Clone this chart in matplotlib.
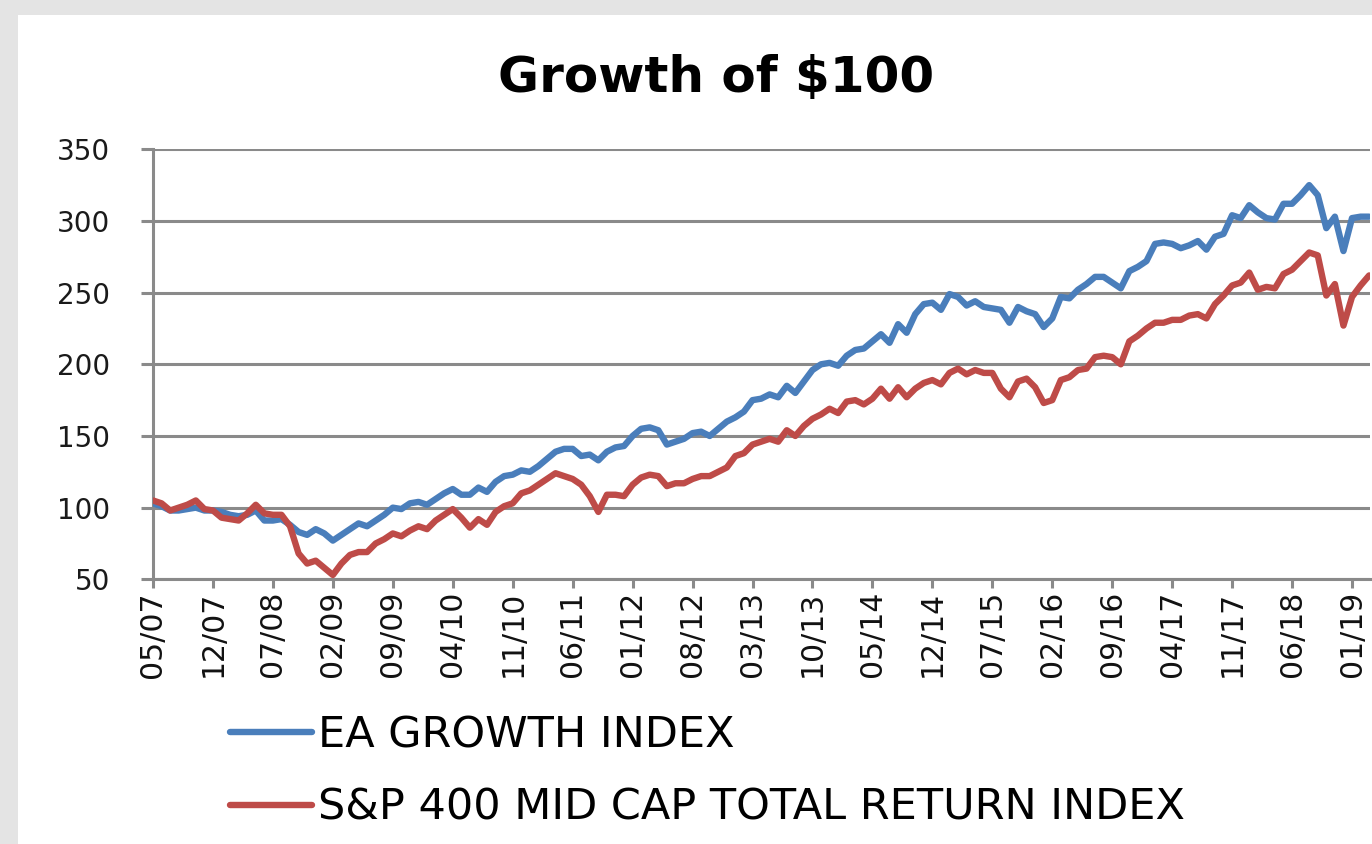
import matplotlib
matplotlib.use("Agg")
import matplotlib.pyplot as plt
import pandas as pd
from matplotlib.patches import Rectangle

# ---------------- data ----------------
start_month = "2007-05"
n_months = 143
ea_growth = [
    103, 101, 98, 98, 99, 100, 98, 98, 97, 95,
    94, 95, 98, 91, 91, 92, 88, 83, 81, 85,
    82, 77, 81, 85, 89, 87, 91, 95, 100, 99,
    103, 104, 102, 106, 110, 113, 109, 109, 114, 111,
    118, 122, 123, 126, 125, 129, 134, 139, 141, 141,
    136, 137, 133, 139, 142, 143, 150, 155, 156, 154,
    144, 146, 148, 152, 153, 150, 155, 160, 163, 167,
    175, 176, 179, 177, 185, 180, 188, 196, 200, 201,
    199, 206, 210, 211, 216, 221, 215, 228, 222, 235,
    242, 243, 238, 249, 247, 241, 244, 240, 239, 238,
    229, 240, 237, 235, 226, 232, 247, 246, 252, 256,
    261, 261, 257, 253, 265, 268, 272, 284, 285, 284,
    281, 283, 286, 280, 289, 291, 304, 302, 311, 306,
    302, 301, 312, 312, 318, 325, 318, 295, 303, 279,
    302, 303, 303,
]
sp400_mid = [
    105, 103, 98, 100, 102, 105, 99, 98, 93, 92,
    91, 96, 102, 96, 95, 95, 87, 68, 61, 63,
    58, 53, 61, 67, 69, 69, 75, 78, 82, 80,
    84, 87, 85, 91, 95, 99, 93, 86, 92, 88,
    97, 101, 103, 110, 112, 116, 120, 124, 122, 120,
    116, 108, 97, 109, 109, 108, 116, 121, 123, 122,
    115, 117, 117, 120, 122, 122, 125, 128, 136, 138,
    144, 146, 148, 146, 154, 150, 157, 162, 165, 169,
    166, 174, 175, 172, 176, 183, 176, 184, 177, 183,
    187, 189, 186, 194, 197, 193, 196, 194, 194, 183,
    177, 188, 190, 184, 173, 175, 189, 191, 196, 197,
    205, 206, 205, 200, 216, 220, 225, 229, 229, 231,
    231, 234, 235, 232, 242, 248, 255, 257, 264, 252,
    254, 253, 263, 266, 272, 278, 276, 248, 256, 227,
    247, 255, 262,
]
series_names = ["EA GROWTH INDEX", "S&P 400 MID CAP TOTAL RETURN INDEX"]
title_text = "Growth of $100"
y_ticks = [50, 100, 150, 200, 250, 300, 350]
tick_every = 7

months = pd.date_range(start_month, periods=n_months, freq="MS")
month_labels = [d.strftime("%m/%y") for d in months]
x = list(range(n_months))

# ---------------- figure ----------------
W, H, DPI = 1372, 844, 100
fig = plt.figure(figsize=(W / DPI, H / DPI), dpi=DPI, facecolor="#e4e4e4")
fig.patches.append(Rectangle((18 / W, 0), 1, (H - 15) / H, transform=fig.transFigure,
                             facecolor="white", edgecolor="none", zorder=-10))

def fx(px):
    return px / W

def fy(py):
    return 1 - py / H

ax_left, ax_right, ax_top, ax_bottom = 153, 1370, 149.3, 579.3
ax = fig.add_axes([fx(ax_left), fy(ax_bottom), fx(ax_right - ax_left), (ax_bottom - ax_top) / H])
ax.set_zorder(5)
ax.set_facecolor("none")

grid_c = "#8a8a8a"
blue = "#4a7ebb"
red = "#be4b48"

ax.plot(x, ea_growth, color=blue, lw=4.6, solid_joinstyle="round", solid_capstyle="round",
        label=series_names[0], zorder=3)
ax.plot(x, sp400_mid, color=red, lw=4.6, solid_joinstyle="round", solid_capstyle="round",
        label=series_names[1], zorder=4)

ax.set_ylim(50, 350)
ax.set_xlim(0, 142.1)
ax.set_yticks(y_ticks)
ax.set_yticklabels([str(v) for v in y_ticks], fontsize=20, color="#1a1a1a",
                   family="DejaVu Sans")
xt = list(range(0, n_months, tick_every))
ax.set_xticks(xt)
ax.set_xticklabels([month_labels[i] for i in xt], rotation=90, fontsize=21.5,
                   color="#111111", family="DejaVu Sans")

ax.grid(axis="y", color=grid_c, lw=2.2, zorder=1)
ax.set_axisbelow(True)
for s in ["top", "right"]:
    ax.spines[s].set_visible(False)
for s in ["left", "bottom"]:
    ax.spines[s].set_color(grid_c)
    ax.spines[s].set_linewidth(2.2)
ax.tick_params(axis="y", length=9, width=2.2, color=grid_c, pad=22)
ax.tick_params(axis="x", length=6.5, width=2.2, color=grid_c, pad=2)

fig.text(fx(716), fy(78), title_text, ha="center", va="center", fontsize=36,
         fontweight="bold", family="DejaVu Sans", color="black")

leg = fig.legend(loc="upper left", bbox_to_anchor=(fx(230), fy(714)),
                 frameon=False, handlelength=1.9, handletextpad=0.15,
                 labelspacing=0.72, borderpad=0, borderaxespad=0,
                 prop={"family": "DejaVu Sans", "size": 31})
for t in leg.get_texts():
    t.set_color("black")

fig.savefig("out.png", dpi=DPI, facecolor=fig.get_facecolor())
